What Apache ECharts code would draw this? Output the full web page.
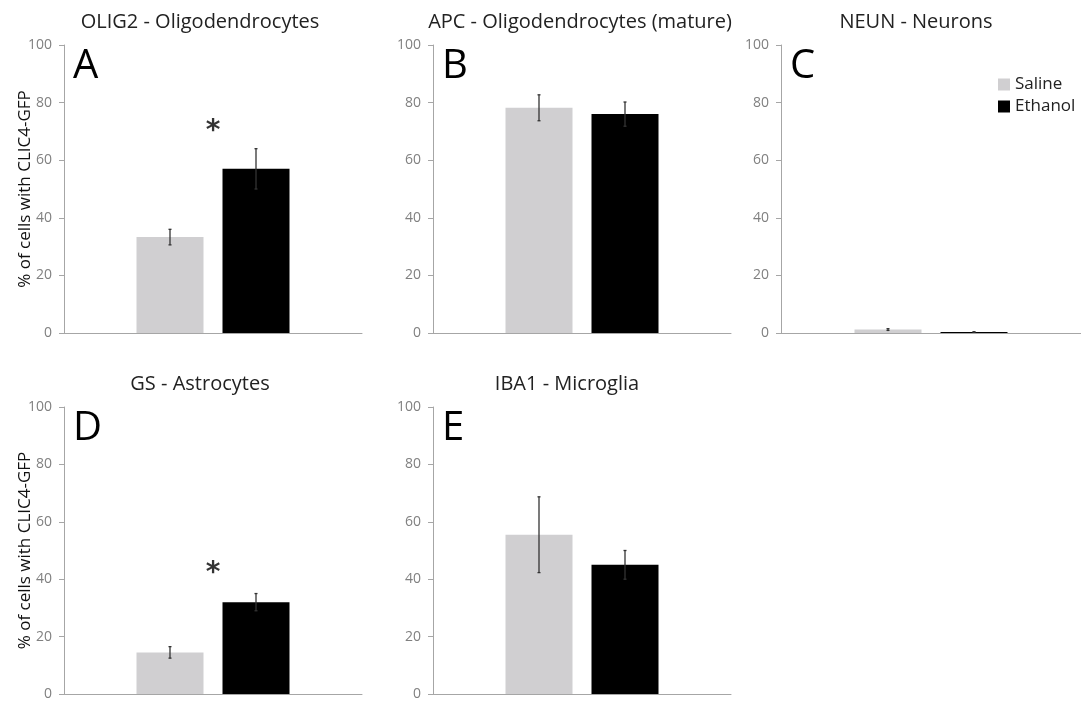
<!DOCTYPE html>
<html>
<head>
<meta charset="utf-8">
<script src="https://cdn.jsdelivr.net/npm/echarts@6/dist/echarts.min.js"></script>
<style>
  html, body { margin: 0; padding: 0; background: #fff; }
  #chart { width: 1081px; height: 702px; }
</style>
</head>
<body>
<div id="chart"></div>
<script>
// data
const groups = ['Saline', 'Ethanol'];
const panelTitles = ['OLIG2 - Oligodendrocytes', 'APC - Oligodendrocytes (mature)', 'NEUN - Neurons', 'GS - Astrocytes', 'IBA1 - Microglia'];
const panelLetters = ['A', 'B', 'C', 'D', 'E'];
const salineMean = [33.3, 78.2, 1.2, 14.5, 55.5];
const salineErr = [2.7, 4.5, 0.3, 2.0, 13.2];
const ethanolMean = [57.0, 76.0, 0.35, 32.0, 45.0];
const ethanolErr = [7.0, 4.2, 0.1, 3.0, 5.0];
const starValue = [70, null, null, 42, null];
const yAxisName = '% of cells with CLIC4-GFP';

// panel boxes (px)
const boxes = [
  { left: 64, top: 45, width: 298, height: 288, titleX: 195 },
  { left: 433, top: 45, width: 298, height: 288, titleX: 575 },
  { left: 781, top: 45, width: 300, height: 288, titleX: 911 },
  { left: 64, top: 407, width: 298, height: 287, titleX: 195 },
  { left: 433, top: 407, width: 298, height: 287, titleX: 562 }
];
const barW = 67;
const barGapPx = 19;
const axisColor = '#a6a6a6';
const font = 'Open Sans, Noto Sans, sans-serif';

const chart = echarts.init(document.getElementById('chart'));

const grid = [], xAxis = [], yAxis = [], series = [], title = [];

boxes.forEach(function (b, i) {
  grid.push({ left: b.left, top: b.top, width: b.width, height: b.height });
  xAxis.push({
    type: 'category', gridIndex: i, data: [''],
    axisLine: { lineStyle: { color: axisColor, width: 1 } },
    axisTick: { show: false }, axisLabel: { show: false }
  });
  const hasName = (i === 0 || i === 3);
  yAxis.push({
    type: 'value', gridIndex: i, min: 0, max: 100, interval: 20,
    name: hasName ? yAxisName : '',
    nameLocation: 'middle', nameGap: 30, nameRotate: 90, nameMoveOverlap: false,
    nameTextStyle: { color: '#111', fontSize: 17, fontFamily: font },
    axisLine: { show: true, lineStyle: { color: axisColor, width: 1 } },
    axisTick: { show: true, length: 5, lineStyle: { color: axisColor } },
    axisLabel: { color: '#808080', fontSize: 14, fontFamily: font, margin: 12 },
    splitLine: { show: false }
  });

  // panel title
  title.push({
    text: panelTitles[i], left: b.titleX, top: b.top - 38,
    textAlign: 'center',
    textStyle: { color: '#222', fontSize: 20, fontWeight: 'normal', fontFamily: font }
  });
  // panel letter
  title.push({
    text: panelLetters[i], left: b.left + 4, top: b.top - 3,
    textStyle: { color: '#000', fontSize: 40, fontWeight: 'normal', fontFamily: font }
  });

  series.push({
    name: groups[0], type: 'bar', xAxisIndex: i, yAxisIndex: i,
    data: [salineMean[i]], barWidth: barW, barGap: (barGapPx / barW * 100) + '%',
    itemStyle: { color: '#d0cfd1' }
  });
  series.push({
    name: groups[1], type: 'bar', xAxisIndex: i, yAxisIndex: i,
    data: [ethanolMean[i]], barWidth: barW,
    itemStyle: { color: '#000000' }
  });

  // error bars
  series.push({
    type: 'custom', xAxisIndex: i, yAxisIndex: i, silent: true, z: 5,
    data: [
      [0, salineMean[i] - salineErr[i], salineMean[i] + salineErr[i]],
      [0, ethanolMean[i] - ethanolErr[i], ethanolMean[i] + ethanolErr[i]]
    ],
    renderItem: function (params, api) {
      const shift = (params.dataIndex === 0 ? -1 : 1) * (barW + barGapPx) / 2;
      const lo = api.coord([api.value(0), api.value(1)]);
      const hi = api.coord([api.value(0), api.value(2)]);
      const x = lo[0] + shift;
      const st = { stroke: '#333', lineWidth: 1.3 };
      return {
        type: 'group',
        children: [
          { type: 'line', shape: { x1: x, y1: lo[1], x2: x, y2: hi[1] }, style: st },
          { type: 'line', shape: { x1: x - 1.5, y1: lo[1], x2: x + 1.5, y2: lo[1] }, style: st },
          { type: 'line', shape: { x1: x - 1.5, y1: hi[1], x2: x + 1.5, y2: hi[1] }, style: st }
        ]
      };
    }
  });

  // significance star
  if (starValue[i] != null) {
    series.push({
      type: 'scatter', xAxisIndex: i, yAxisIndex: i, silent: true,
      symbolSize: 0, data: [[0, starValue[i]]],
      label: {
        show: true, position: 'inside', formatter: '*',
        color: '#000', fontSize: 28, fontWeight: 'bold', fontFamily: 'DejaVu Sans'
      }
    });
  }
});

chart.setOption({
  animation: false,
  backgroundColor: '#ffffff',
  title: title,
  legend: {
    data: groups, orient: 'vertical', left: 993, top: 71,
    itemWidth: 12, itemHeight: 12, itemGap: 5,
    icon: 'rect',
    textStyle: { color: '#222', fontSize: 17, fontFamily: font }
  },
  grid: grid,
  xAxis: xAxis,
  yAxis: yAxis,
  series: series
});
</script>
</body>
</html>
